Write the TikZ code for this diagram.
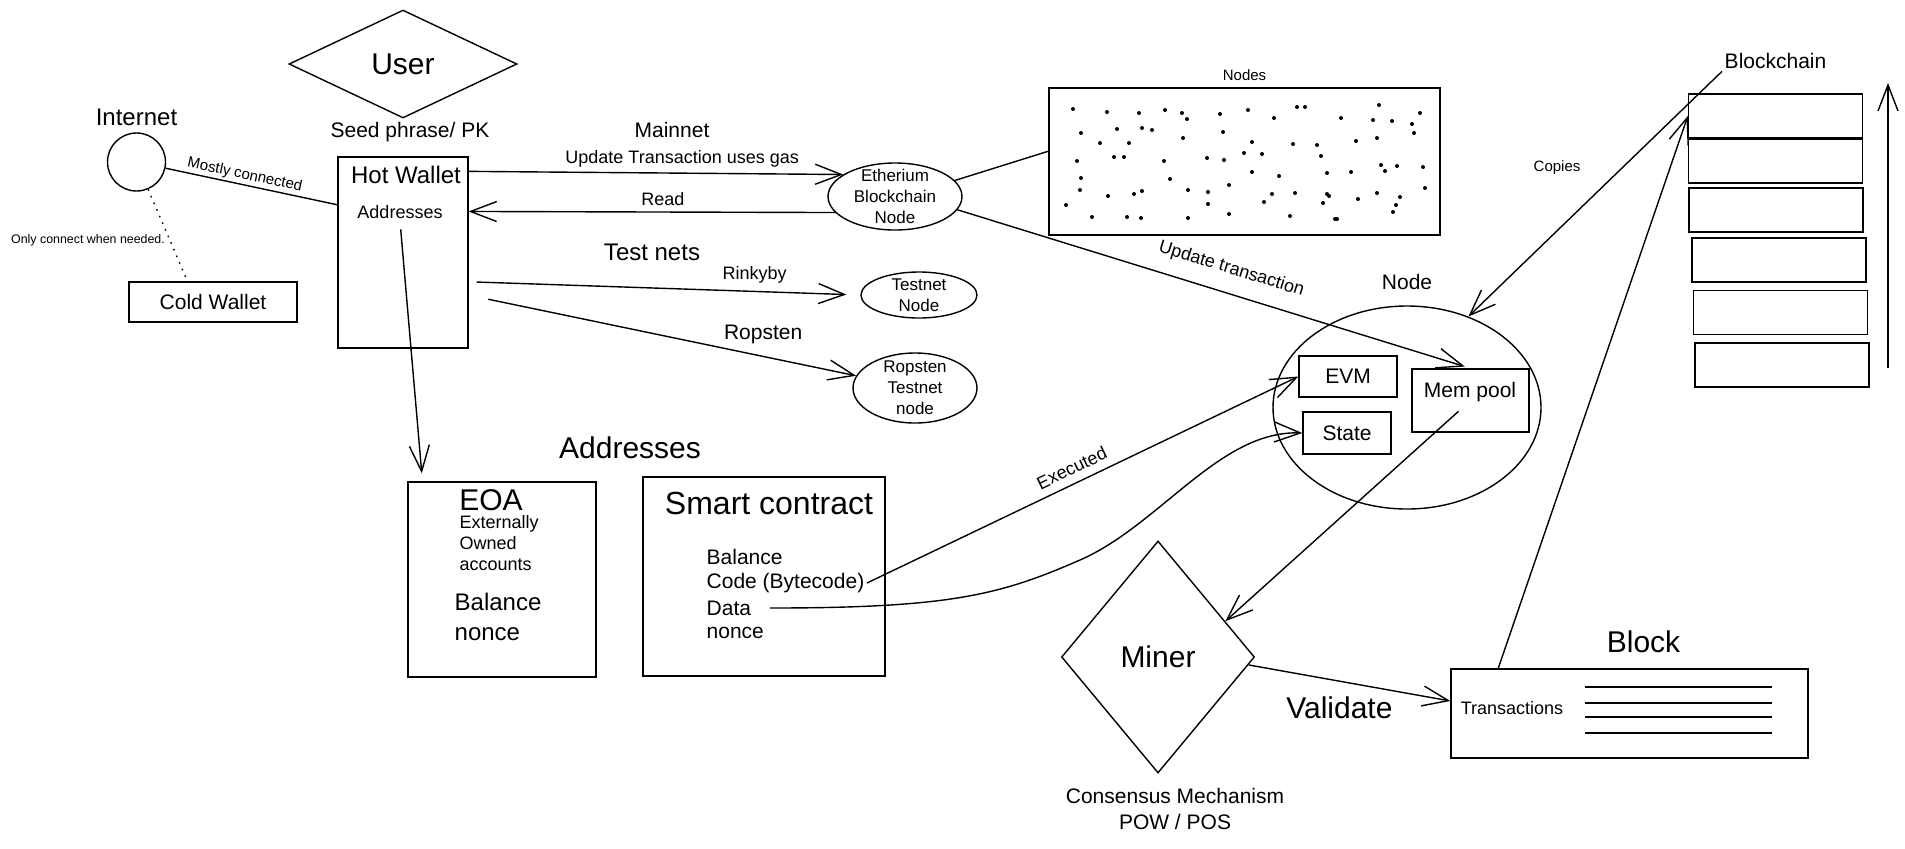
\documentclass[tikz,border=0pt]{standalone}
\usepackage{fontspec}
\setmainfont{Liberation Sans}
\usetikzlibrary{positioning,shapes.geometric,arrows.meta}

\begin{document}
\begin{tikzpicture}[x=0.5pt,y=-0.5pt,line width=0.7pt,
  >={Straight Barb[length=13pt,width=10pt]},
  box/.style={draw,rectangle,inner sep=0pt},
  huge label/.style={font=\fontsize{15}{18}\selectfont,inner sep=1pt},
  big label/.style={font=\fontsize{12}{15}\selectfont,inner sep=1pt},
  mid label/.style={font=\fontsize{10.5}{12.7}\selectfont,inner sep=1pt},
  small label/.style={font=\fontsize{9}{10.3}\selectfont,inner sep=1pt},
  tiny label/.style={font=\fontsize{7.5}{9}\selectfont,inner sep=1pt},
  note label/.style={font=\fontsize{6.2}{7.5}\selectfont,inner sep=1pt},
  nodetext/.style={font=\fontsize{8.5}{10.6}\selectfont,align=center,inner sep=0pt},
  dotline/.style={dash pattern=on 0.8pt off 2.8pt}]
  \useasboundingbox (0,0) rectangle (1905,848);

  \node at (403,64) [diamond,draw,minimum width=114pt,minimum height=54pt,huge label,inner sep=0pt] (user) {User};

  \node at (403,252.5) [box,minimum width=65pt,minimum height=95.5pt] (hotwallet) {};
  \node [mid label,above=6pt of hotwallet,xshift=3.5pt] (seed) {Seed phrase/ PK};
  \node at (406,175) [big label] (hottitle) {Hot Wallet};
  \node at (400,212) [small label] (hotaddr) {Addresses};

  \node at (136.5,162) [circle,draw,minimum size=29pt,inner sep=0pt] (internet) {};
  \node [big label,above=2pt of internet] (internetlabel) {Internet};
  \node at (213,302) [box,minimum width=84pt,minimum height=20pt,mid label] (coldwallet) {Cold Wallet};
  \node at (88,240) [note label] (onlyconnect) {Only connect when needed.};

  \draw (internet) -- node[sloped,above,pos=0.45,tiny label] {Mostly connected} (hotwallet.144);
  \draw[dotline] (internet) -- (coldwallet.141);

  \node at (895,196.5) [ellipse,draw,minimum width=67pt,minimum height=33.5pt,inner sep=0pt] (eth) {};
  \node at (eth) [nodetext] (ethtext) {Etherium\\Blockchain\\Node};
  \node at (919,295) [ellipse,draw,minimum width=58pt,minimum height=23pt,inner sep=0pt] (testnet) {};
  \node at (testnet) [nodetext] (testnettext) {Testnet\\Node};
  \node at (915,388) [ellipse,draw,minimum width=62pt,minimum height=35pt,inner sep=0pt] (ropsten) {};
  \node at (ropsten) [nodetext] (ropstentext) {Ropsten\\Testnet\\node};

  \node at (672,130) [mid label] (mainnet) {Mainnet};
  \node at (652,252) [big label] (testnets) {Test nets};

  \draw[->] (hotwallet.51) -- node[above=1.5pt,small label,pos=0.57] {Update Transaction uses gas} (eth.157);
  \draw[->] (eth.195) -- node[above=2pt,small label,pos=0.47] {Read} (hotwallet.32);
  \draw[->,shorten <=4pt,shorten >=7pt] (hotwallet.-24) -- node[above=3pt,small label,pos=0.73] {Rinkyby} (testnet.west);
  \draw[->,shorten <=10pt] (hotwallet.-33) -- node[above=5pt,mid label,pos=0.76] {Ropsten} (ropsten);

  \node at (1244.5,161.5) [box,minimum width=195.5pt,minimum height=73.5pt] (nodesbox) {};
  \node [tiny label,above=2pt of nodesbox] (nodeslabel) {Nodes};
  \foreach \dx/\dy in {1073/109,1107/112,1139/113,1165/110,1182/113,1187/119,1220/114,1248/110,1274/118,
    1297/107,1305/107,1341/118,1379/105,1373/120,1392/121,1412/124,1420/113,1081/133,1117/129,1142/128,
    1152/130,1100/143,1129/143,1183/138,1223/132,1252/142,1293/144,1317/145,1356/141,1377/138,1414/133,
    1077/161,1114/157,1124/157,1164/161,1207/158,1224/160,1244/153,1262/154,1321/156,1081/178,1170/179,
    1252/172,1279/176,1327/173,1351/172,1381/165,1385/171,1397/166,1423/167,1080/190,1108/196,1134/194,
    1142/191,1188/190,1208/192,1229/185,1272/194,1295/193,1327/194,1329/196,1358/199,1377/193,1400/197,
    1425/188,1066/205,1092/217,1127/217,1141/218,1188/218,1208/204,1229/214,1264/202,1290/216,1323/203,
    1335/219,1337/219,1396/205,1393/212}
    \fill (\dx,\dy) circle (1pt);
  \draw (eth.15) -- (nodesbox.177);

  \node at (1407,407.5) [ellipse,draw,minimum width=134pt,minimum height=101.5pt,inner sep=0pt] (localnode) {};
  \node [mid label,above=6.5pt of localnode] (localnodelabel) {Node};
  \node at (1348,376.5) [box,minimum width=49pt,minimum height=20.5pt,mid label] (evm) {EVM};
  \node at (1347,433) [box,minimum width=44pt,minimum height=21pt,mid label] (state) {State};
  \node at (1470.5,400.5) [box,minimum width=58.5pt,minimum height=31.5pt] (mempool) {};
  \node at (1470,392) [mid label] (memtext) {Mem pool};

  \draw[->,shorten >=3pt] (eth.-12) -- node[above=6.5pt,sloped,small label,pos=0.52] {Update transaction} (mempool.north);

  \foreach \bx/\by [count=\i] in {1775.5/116,1775.5/161,1776/210,1779/260,1780.5/312.5,1782/365}
    \node at (\bx,\by) [box,minimum width=87pt,minimum height=22pt] (chain\i) {};
  \node [mid label,above=11pt of chain1] (chainlabel) {Blockchain};
  \node at (1557,168) [tiny label] (copies) {Copies};
  \draw[->] (chainlabel.south west) -- (localnode.56);
  \coordinate (arrowlow) at (1888,368);
  \coordinate (arrowhigh) at (1888,83);
  \draw[->] (arrowlow) -- (arrowhigh);

  \node at (1158,657) [diamond,draw,minimum width=96.5pt,minimum height=116pt,huge label,inner sep=0pt] (miner) {Miner};
  \node [mid label,align=center,below=6pt of miner,xshift=8.5pt] (consensus) {Consensus Mechanism\\POW / POS};
  \node at (1629.5,713.5) [box,minimum width=178.5pt,minimum height=44.5pt] (block) {};
  \node [huge label,above=6.5pt of block,xshift=7pt] (blocklabel) {Block};
  \node at (1512,708) [small label] (txlabel) {Transactions};
  \foreach \ly in {687,703,717,733}
    \draw[line width=1pt] (1585,\ly) -- (1772,\ly);

  \draw[->,shorten <=8pt] (mempool.center) -- (miner.28);
  \draw[->] (miner.-5) -- node[below=6.5pt,huge label,pos=0.45] {Validate} (block.176);
  \draw[->] (block.161) -- (chain1.west);

  \node at (630,448) [huge label] (addrheading) {Addresses};
  \node at (502,579.5) [box,minimum width=94pt,minimum height=97.5pt] (eoa) {};
  \node at (491,500) [huge label] (eoatitle) {EOA};
  \node at (457,543) [small label,align=left,anchor=west] (eoadesc) {Externally\\Owned\\accounts};
  \node at (452,617) [big label,align=left,anchor=west] (eoabalance) {Balance\\nonce};

  \node at (764,576.5) [box,minimum width=121pt,minimum height=99.5pt] (contract) {};
  \node at (769,503) [huge label,font=\fontsize{16}{19}\selectfont] (contracttitle) {Smart contract};
  \node at (704,557) [mid label,anchor=west] (scbalance) {Balance};
  \node at (704,583) [mid label,anchor=west] (sccode) {Code (Bytecode)};
  \node at (704,608) [mid label,anchor=west] (scdata) {Data};
  \node at (704,633) [mid label,anchor=west] (scnonce) {nonce};

  \draw[->,shorten <=4pt,shorten >=4pt] (hotaddr.south) -- (eoa.129);
  \draw[->] (sccode.east) -- node[above=3pt,sloped,small label,pos=0.49] {Executed} (evm.west);
  \draw[->,shorten <=8pt] (scdata.east) .. controls (950,608) and (1000,595) .. (1080,560)
    .. controls (1160,525) and (1220,430) .. (state.west);
\end{tikzpicture}
\end{document}
